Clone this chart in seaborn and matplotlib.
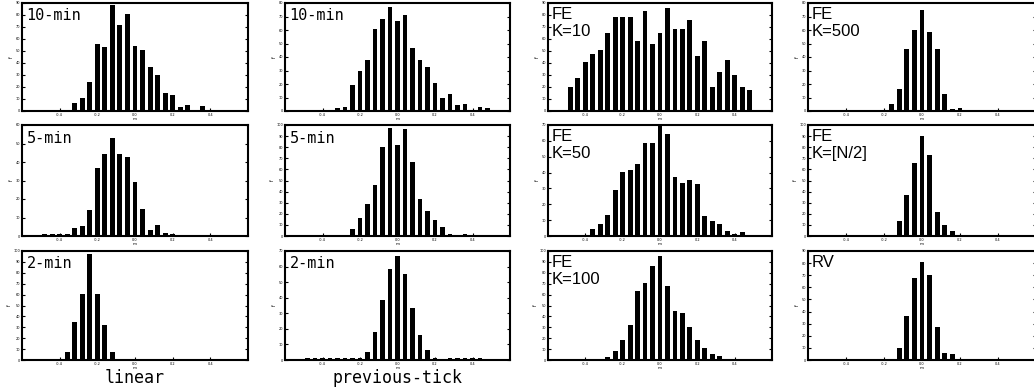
import numpy as np
import pandas as pd
import matplotlib
matplotlib.use("Agg")
import matplotlib.pyplot as plt
import seaborn as sns

# bin centres shared by every panel (-0.52 ... 0.48, step 0.04)
bin_centers = np.round(-0.52 + 0.04 * np.arange(26), 2)

# frequencies (one list per panel, 26 bins each)
lin_10 = [0, 1, 1, 1, 1, 7, 11, 24, 56, 53, 88, 72, 81, 54, 51, 37, 30, 15, 13, 3, 5, 1, 4, 1, 1, 0]
lin_5 = [0, 1, 1, 1, 1, 4.5, 5.4, 14.1, 36.9, 44.3, 52.8, 44.1, 42.7, 29.0, 14.6, 3.2, 5.8, 1.4, 1.1,
         0.8, 0.8, 0.8, 0.8, 0.8, 0.8, 0]
lin_2 = [0, 1, 1, 1, 7.3, 34.9, 60.9, 97.2, 60.6, 31.8, 7.3, 1, 1, 1, 1, 1, 1, 1, 1,
         1, 1, 1, 1, 1, 1, 0]
prev_10 = [0, 0.8, 0.8, 0.8, 0.8, 2.5, 3.2, 19.2, 29.6, 37.7, 60.6, 68.0, 77.1, 66.7, 71.4, 46.3, 37.7, 32.8,
           20.5, 9.4, 12.3, 4.4, 5.2, 0.8, 3.0, 2.5]
prev_5 = [0, 1, 1, 1, 1, 1, 1, 6.4, 16.0, 29.1, 45.5, 80.6, 97.3, 81.8, 96.4, 67.0, 33.3, 22.7,
          14.5, 8.2, 1.8, 0.9, 1.8, 0.9, 0, 0]
prev_2 = [0, 1, 1, 1, 1, 1, 1, 1, 1.1, 5.1, 18.2, 38.5, 58.5, 66.8, 55.2, 33.2, 16.1, 6.4, 1.1,
          0.8, 1, 1, 1, 1, 1, 0]
fe_10 = [0.8, 19.7, 27.7, 40.5, 47.9, 50.7, 65.4, 78.4, 78.4, 78.4, 58.2, 83.1, 56.0, 65.4, 85.9, 68.2, 68.2,
         75.6, 45.7, 58.2, 19.7, 32.7, 42.9, 30.0, 19.7, 17.5]
fe_50 = [0, 0.8, 0.8, 0.8, 4.5, 7.4, 13.4, 28.7, 40.5, 41.4, 45.2, 58.4, 58.4, 70.0, 64.3, 37.4, 33.6, 35.5,
         33.1, 12.3, 9.6, 7.4, 3.2, 1.3, 2.5, 0]
fe_100 = [0, 1, 1, 1, 1, 1, 3.1, 8.6, 18.3, 32.1, 63.3, 70.3, 86.5, 95.4, 67.9, 45.0, 43.4, 30.3,
          18.3, 10.7, 5.2, 3.7, 1, 1, 1, 0]
fe_500 = [0, 0.8, 0.8, 0.8, 0.8, 0.8, 0.8, 0.8, 0.8, 5.2, 16.0, 45.6, 59.8, 74.6, 58.6, 45.6, 12.3, 1.7, 2.0,
          0.8, 0.8, 0.8, 0.8, 0.8, 0.8, 0]
fe_half = [0, 1, 1, 1, 1, 1, 1, 1, 1, 1, 13.9, 37.3, 66.1, 90.3, 73.0, 21.5, 10.0, 4.5,
           0, 0, 0, 0, 0, 0, 0, 0]
rv = [0, 1, 1, 1, 1, 1, 1, 1, 1, 1, 9.6, 36.6, 67.8, 81.3, 70.2, 27.5, 6.1, 4.7, 1,
      1, 1, 1, 1, 1, 1, 0]

# panel grid: (heights, label, number of y intervals)
panels = [
    [(lin_10, "10-min", 9), (prev_10, "10-min", 8), (fe_10, "FE\nK=10", 9), (fe_500, "FE\nK=500", 8)],
    [(lin_5, "5-min", 6), (prev_5, "5-min", 10), (fe_50, "FE\nK=50", 7), (fe_half, "FE\nK=[N/2]", 10)],
    [(lin_2, "2-min", 10), (prev_2, "2-min", 7), (fe_100, "FE\nK=100", 10), (rv, "RV", 9)],
]
x_ticks = [-0.4, -0.2, 0.0, 0.2, 0.4]
col_titles = ["linear", "previous-tick"]

sns.set_style("ticks")
plt.rcParams['font.family'] = ['DejaVu Sans']
plt.rcParams['text.color'] = 'black'
plt.rcParams['axes.labelcolor'] = 'black'
plt.rcParams['xtick.color'] = 'black'
plt.rcParams['ytick.color'] = 'black'

W, H = 1034, 387
fig = plt.figure(figsize=(W / 100, H / 100), dpi=100)

col_px = [(22, 248), (285, 510), (548, 772), (808, 1036)]
row_px = [(3, 111), (125, 236), (251, 360)]

for r, row in enumerate(panels):
    for c, (heights, label, nint) in enumerate(row):
        x0, x1 = col_px[c]
        y0, y1 = row_px[r]
        ax = fig.add_axes([x0 / W, 1 - y1 / H, (x1 - x0) / W, (y1 - y0) / H])
        df = pd.DataFrame({"ret": bin_centers, "freq": heights})
        sns.histplot(data=df, x="ret", weights="freq", binwidth=0.04, binrange=(-0.54, 0.50),
                     shrink=0.65, color="black", alpha=1, linewidth=0, ax=ax)
        ax.set_xlim(-0.6, 0.6)
        ax.set_ylim(0, nint * 10)
        ax.set_yticks(np.arange(nint + 1) * 10)
        ax.set_xticks(x_ticks)
        ax.set_xticklabels([f"{t:.1f}" for t in x_ticks])
        ax.tick_params(direction="in", length=2, width=0.8, labelsize=2.5, pad=1.5, right=True)
        ax.set_xlabel("m", fontsize=3, labelpad=0)
        ax.set_ylabel("f", fontsize=3.5, labelpad=1)
        for s in ax.spines.values():
            s.set_linewidth(1.5)
            s.set_color("black")
        if c < 2:
            ax.text(0.02, 0.95, label, transform=ax.transAxes, va="top", ha="left",
                    family="DejaVu Sans Mono", fontsize=11)
        else:
            ax.text(0.018, 0.96, label, transform=ax.transAxes, va="top", ha="left",
                    family="Liberation Sans", fontsize=12, linespacing=1.15)

for c, t in enumerate(col_titles):
    x0, x1 = col_px[c]
    fig.text((x0 + x1) / 2 / W, 0.0, t, ha="center", va="bottom",
             family="DejaVu Sans Mono", fontsize=12)

fig.savefig("out.png", dpi=100)
